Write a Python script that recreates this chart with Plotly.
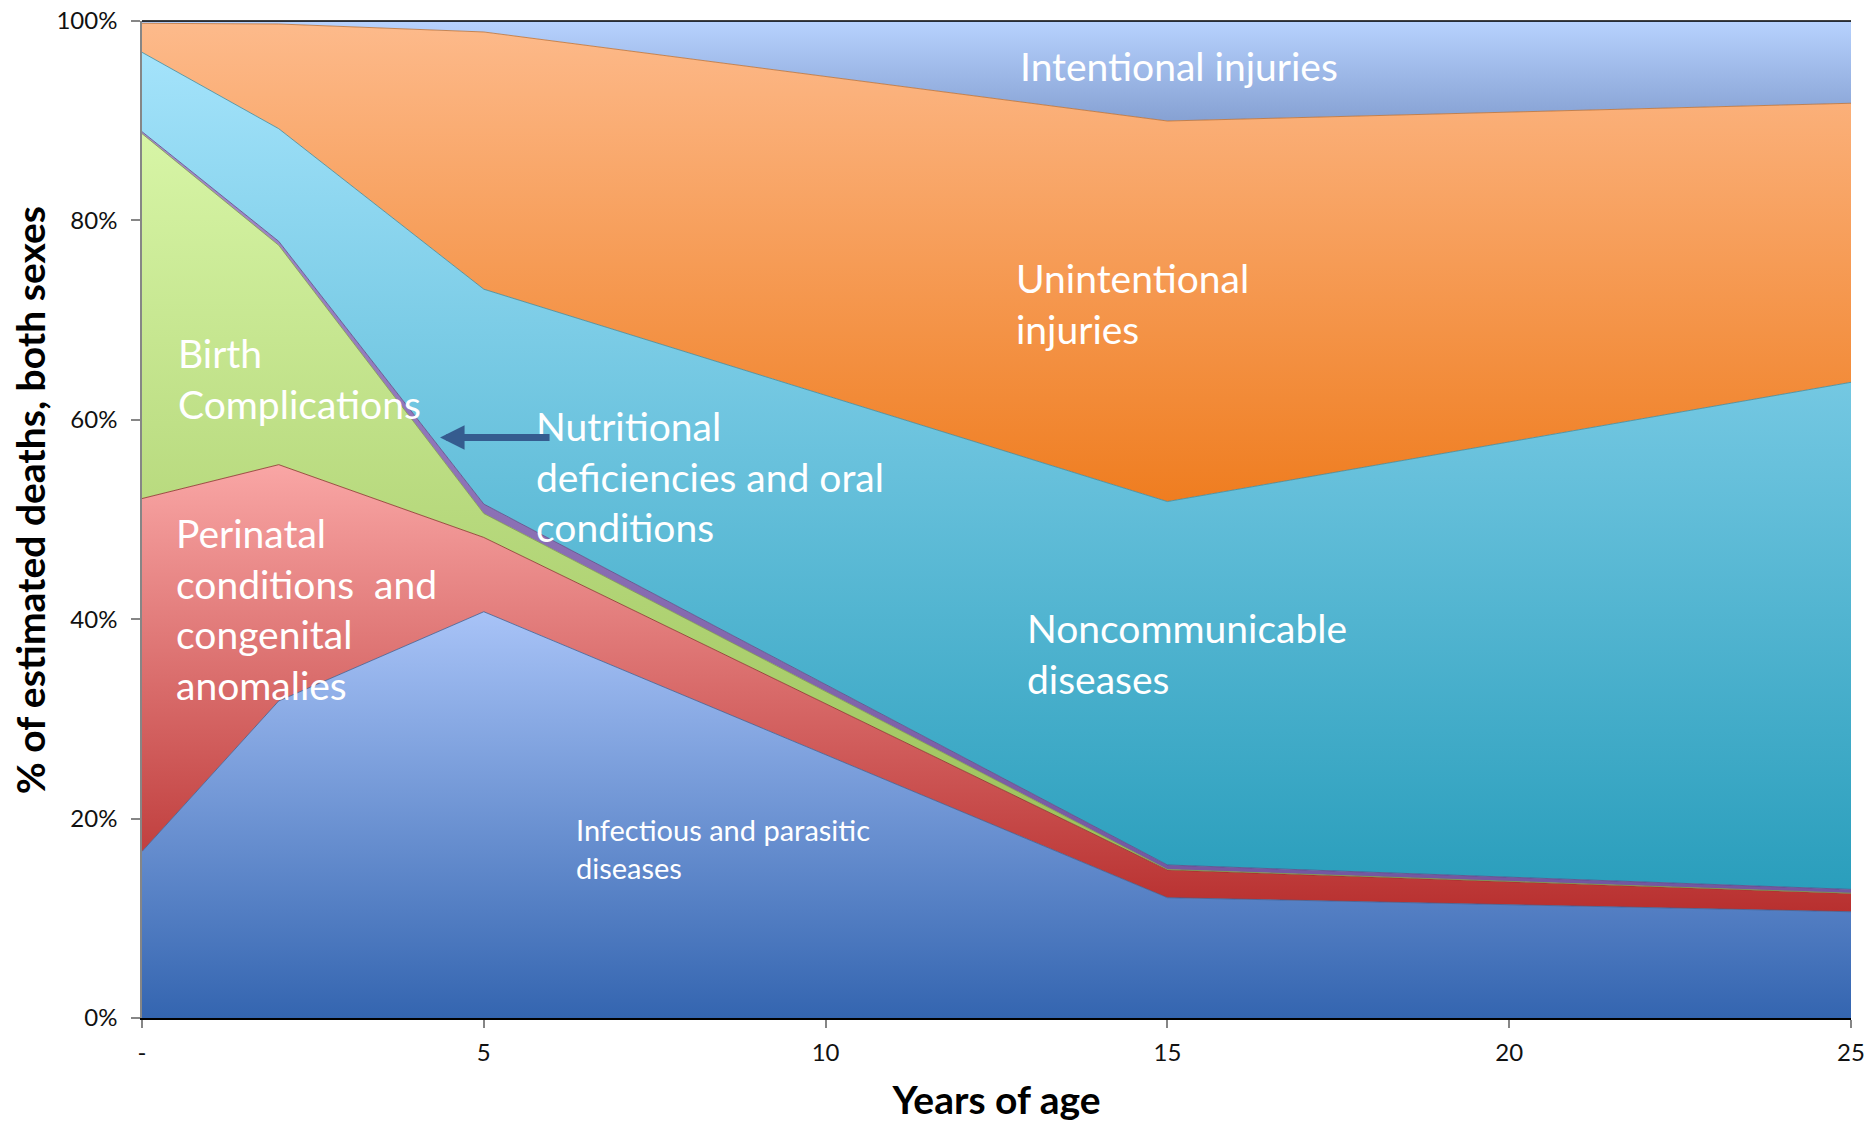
import plotly.graph_objects as go

# ---- data (percent of deaths, by age) ----
ages = [0, 2, 5, 15, 25]
x_tickvals = [0, 5, 10, 15, 20, 25]
x_ticktext = ["-", "5", "10", "15", "20", "25"]
y_tickvals = [0, 20, 40, 60, 80, 100]
y_ticktext = ["0%", "20%", "40%", "60%", "80%", "100%"]

infectious = [16.7, 31.8, 40.75, 12.07, 10.66]
perinatal = [35.4, 23.7, 7.45, 2.78, 1.84]
birth = [36.6, 22.0, 2.4, 0.05, 0.02]
nutritional = [0.2, 0.4, 0.95, 0.45, 0.38]
noncommunicable = [7.96, 11.3, 21.55, 36.45, 50.86]
unintentional = [2.91, 10.5, 25.8, 38.17, 27.99]
intentional = [0.23, 0.3, 1.1, 10.03, 8.25]

series_names = ["Infectious and parasitic diseases", "Perinatal conditions and congenital anomalies",
                "Birth complications", "Nutritional deficiencies and oral conditions",
                "Noncommunicable diseases", "Unintentional injuries", "Intentional injuries"]
series_values = [infectious, perinatal, birth, nutritional, noncommunicable, unintentional, intentional]
# (bottom colour, top colour, outline)
series_colors = [
    ("#3465b0", "#a8c3f7", "#3a5f95"),
    ("#b8302f", "#f9a6a5", "#8c2c2a"),
    ("#98be55", "#d7f5a6", "#7f9c49"),
    ("#7456a0", "#a38bca", "#5d4784"),
    ("#2a9ebc", "#a4e3fb", "#3b8aa0"),
    ("#ef7d20", "#fdba8b", "#c0702f"),
    ("#86a1d3", "#b7d2fe", "#6d86b5"),
]

FONT = "Lato, 'Open Sans', sans-serif"

fig = go.Figure()
lower = [0.0] * len(ages)
for name, vals, (c0, c1, lc) in zip(series_names, series_values, series_colors):
    upper = [a + b for a, b in zip(lower, vals)]
    lo, hi = min(lower), max(upper)
    fig.add_trace(go.Scatter(
        x=ages, y=vals, name=name, mode="lines", stackgroup="one",
        line=dict(color=lc, width=0.8),
        fillcolor=c0,
        fillgradient=dict(type="vertical", start=lo, stop=hi,
                          colorscale=[[0, c0], [1, c1]]),
        hoverinfo="name+y",
    ))
    lower = upper

labels = [
    ("Intentional injuries", 12.81, 95.46, 39),
    ("Unintentional<br>injuries", 12.76, 71.69, 39),
    ("Birth<br>Complications", 0.497, 64.12, 39),
    ("Nutritional<br>deficiencies and oral<br>conditions", 5.73, 54.35, 39),
    ("Perinatal<br>conditions\u00a0 and<br>congenital<br>anomalies", 0.468, 41.01, 39),
    ("Noncommunicable<br>diseases", 12.92, 36.6, 39),
    ("Infectious and parasitic<br>diseases", 6.32, 17.0, 29),
]
for text, xv, yv, fs in labels:
    fig.add_annotation(x=xv, y=yv, xref="x", yref="y", text=text, showarrow=False,
                       xanchor="left", yanchor="middle", align="left",
                       font=dict(family=FONT, size=fs, color="white"))

# arrow pointing at the thin nutritional band
fig.add_annotation(x=4.36, y=58.22, xref="x", yref="y", text="", showarrow=True,
                   ax=111, ay=0, arrowhead=2, arrowsize=0.7, arrowwidth=7,
                   arrowcolor="#355c8f", standoff=0)

# y-axis title (placed like the original, slightly above the plot centre)
fig.add_annotation(x=-0.0655, y=0.5194, xref="paper", yref="paper",
                   text="<b>% of estimated deaths, both sexes</b>", textangle=-90,
                   showarrow=False, xanchor="center", yanchor="middle",
                   font=dict(family=FONT, size=39, color="black"))

fig.add_shape(type="line", xref="paper", yref="paper", x0=0, x1=1, y0=1, y1=1,
              line=dict(color="black", width=1.5), layer="above")

fig.update_layout(
    width=1864, height=1126,
    margin=dict(l=142, r=13, t=21, b=108),
    paper_bgcolor="white", plot_bgcolor="white",
    showlegend=False,
    font=dict(family=FONT, color="#111111"),
    xaxis=dict(range=[0, 25], tickvals=x_tickvals, ticktext=x_ticktext,
               ticks="outside", ticklen=8, tickcolor="#868686", tickwidth=1.5,
               showline=True, linecolor="black", linewidth=2,
               showgrid=False, zeroline=False, ticklabelstandoff=4,
               automargin=False, ticklabeloverflow="allow",
               tickfont=dict(family=FONT, size=24, color="#111111"),
               title=dict(text="<b>Years of age</b>", standoff=22,
                          font=dict(family=FONT, size=39, color="black"))),
    yaxis=dict(range=[0, 100], tickvals=y_tickvals, ticktext=y_ticktext,
               ticks="outside", ticklen=9, tickcolor="#868686", tickwidth=1.5,
               showline=True, linecolor="#868686", linewidth=1.5,
               showgrid=False, zeroline=False, ticklabelstandoff=9,
               automargin=False, ticklabeloverflow="allow",
               tickfont=dict(family=FONT, size=24, color="#111111")),
)

fig.write_html("out.html", config={"displayModeBar": False},
               post_script="document.body.style.margin='0px';document.body.style.overflow='hidden';")
